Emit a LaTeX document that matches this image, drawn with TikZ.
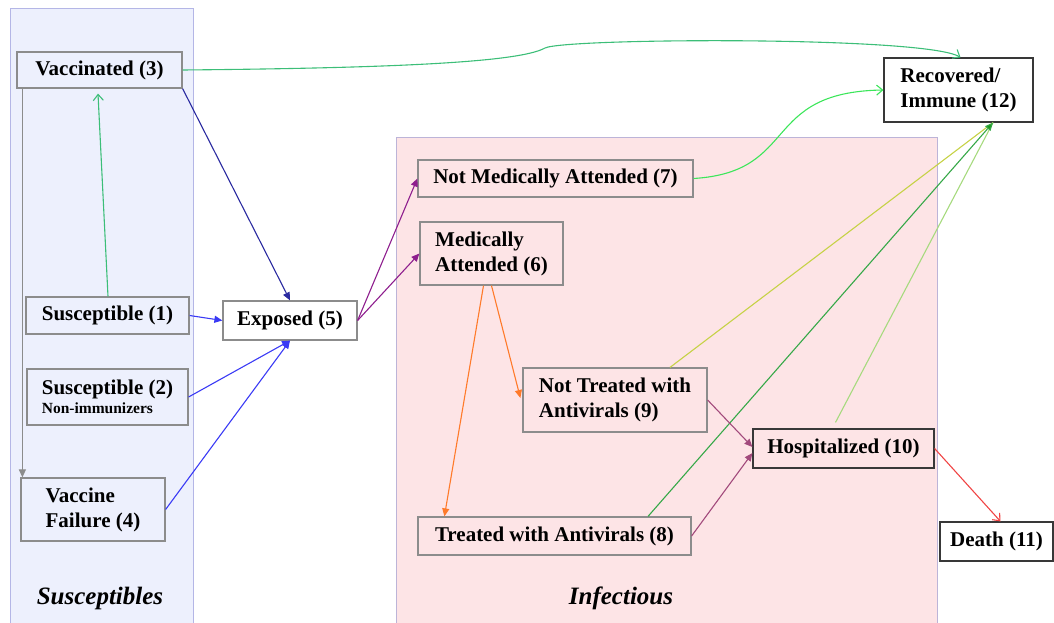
\documentclass[tikz,border=0pt]{standalone}
\usepackage{fontspec}
\setmainfont{Liberation Serif}
\usetikzlibrary{arrows.meta}

\definecolor{susfill}{HTML}{EDF0FD}
\definecolor{susline}{HTML}{B4B6E6}
\definecolor{inffill}{HTML}{FDE4E6}
\definecolor{infline}{HTML}{BCB4D8}
\definecolor{boxgray}{HTML}{8C8C8C}
\definecolor{boxdark}{HTML}{383838}
\definecolor{vacgreen}{HTML}{3CBE78}
\definecolor{recgreen}{HTML}{3CE65A}
\definecolor{navyarr}{HTML}{2A2AA0}
\definecolor{bluearr}{HTML}{3A3AF5}
\definecolor{purparr}{HTML}{8E1E8E}
\definecolor{orangearr}{HTML}{FF7A2A}
\definecolor{mauvearr}{HTML}{A24A7C}
\definecolor{yelgreen}{HTML}{C6D246}
\definecolor{midgreen}{HTML}{36A848}
\definecolor{palegreen}{HTML}{A6DA7E}
\definecolor{tipgreen}{HTML}{1E9A1E}
\definecolor{redarr}{HTML}{F04444}

\tikzset{
  box/.style={draw=boxgray, line width=1.2pt, inner sep=0pt, align=left,
    font=\bfseries\fontsize{21}{25}\selectfont},
  darkbox/.style={box, draw=boxdark},
  filled/.style={-{Triangle[length=8pt,width=7pt]}, line width=1.1pt},
  openarr/.style={-{Straight Barb[length=6pt,width=10pt]}, line width=1.1pt},
  paneltitle/.style={font=\bfseries\itshape\fontsize{25}{28}\selectfont}
}

\begin{document}
\begin{tikzpicture}[x=1pt,y=-1pt]
    \useasboundingbox (0,0) rectangle (1054,623);

    % panels
    \draw [fill=susfill, draw=susline, line width=1pt] (10,9) rectangle (193,630);
    \draw [fill=inffill, draw=infline, line width=1pt] (396,137) rectangle (937,630);
    \node [paneltitle] (susttl) at (100,598) {Susceptibles};
    \node [paneltitle] (infttl) at (621,598) {Infectious};

    % compartments
    \node [box, minimum width=165, minimum height=36] (vacc) at (99.5,70) {Vaccinated (3)};
    \node [box, minimum width=163, minimum height=37] (sus1) at (107.5,315.5) {Susceptible (1)};
    \node [box, minimum width=161, minimum height=56] (sus2) at (107.5,397)
        {Susceptible (2)\\[-6pt]{\fontsize{15.5}{17}\selectfont Non-immunizers}};
    \node [box, minimum width=144, minimum height=63] (vfail) at (93,509.5) {Vaccine\\Failure (4)};
    \node [box, fill=white, minimum width=134, minimum height=39] (expo) at (290,320.5) {Exposed (5)};
    \node [box, minimum width=275, minimum height=37] (notmed) at (555.5,178.5) {Not Medically Attended (7)};
    \node [box, minimum width=143, minimum height=63] (medatt) at (491.5,253.5) {Medically\\Attended (6)};
    \node [box, minimum width=184, minimum height=64] (nottreat) at (615,400) {Not Treated with\\Antivirals (9)};
    \node [box, minimum width=273, minimum height=38] (treat) at (554.5,536) {Treated with Antivirals (8)};
    \node [darkbox, minimum width=181, minimum height=39] (hosp) at (843.5,448.5) {Hospitalized (10)};
    \node [darkbox, fill=white, minimum width=113, minimum height=39] (death) at (996.5,541.5) {Death (11)};
    \node [darkbox, fill=white, minimum width=149, minimum height=64] (recov) at (958.5,90) {Recovered/\\Immune (12)};

    \coordinate (recin) at ([xshift=34.5]recov.south);

    % flows
    \draw [openarr, draw=vacgreen] ([xshift=0.5]sus1.north) -- ([xshift=-1.5,yshift=-5]vacc.south);
    \draw [filled, draw=boxgray, fill=boxgray] ([xshift=6]vacc.south west) -- ([xshift=6]vacc.south west |- vfail.north);
    \draw [filled, draw=navyarr] (vacc.south east) -- (expo.north);
    \draw [openarr, draw=vacgreen] (vacc.east) .. controls (400,68) and (520,62) .. (545,48)
        .. controls (565,38) and (925,36) .. ([xshift=2]recov.north);
    \draw [filled, draw=bluearr] (sus1.east) -- (expo.west);
    \draw [filled, draw=bluearr] (sus2.east) -- (expo.south);
    \draw [filled, draw=bluearr] (vfail.east) -- (expo.south);
    \draw [filled, draw=purparr] (expo.east) -- (notmed.west);
    \draw [filled, draw=purparr] (expo.east) -- (medatt.west);
    \draw [filled, draw=orangearr] (medatt.south) -- ([xshift=-2,yshift=2]nottreat.west);
    \draw [filled, draw=orangearr] ([xshift=-8]medatt.south) -- ([xshift=27]treat.north west);
    \draw [openarr, draw=recgreen] (notmed.east) .. controls (800,172) and (760,92) .. (recov.west);
    \draw [line width=1.1pt, draw=yelgreen] ([xshift=55]nottreat.north) -- (recin);
    \draw [line width=1.1pt, draw=palegreen] ([xshift=-8,yshift=6]hosp.north) -- (recin);
    \draw [filled, draw=midgreen, -{Triangle[length=8pt,width=7pt,fill=tipgreen]}] ([xshift=93.5]treat.north) -- (recin);
    \draw [filled, draw=mauvearr] (nottreat.east) -- ([yshift=1.5]hosp.west);
    \draw [filled, draw=mauvearr] (treat.east) -- ([yshift=-4.5]hosp.west);
    \draw [openarr, draw=redarr] (hosp.east) -- ([xshift=4]death.north);
\end{tikzpicture}
\end{document}
